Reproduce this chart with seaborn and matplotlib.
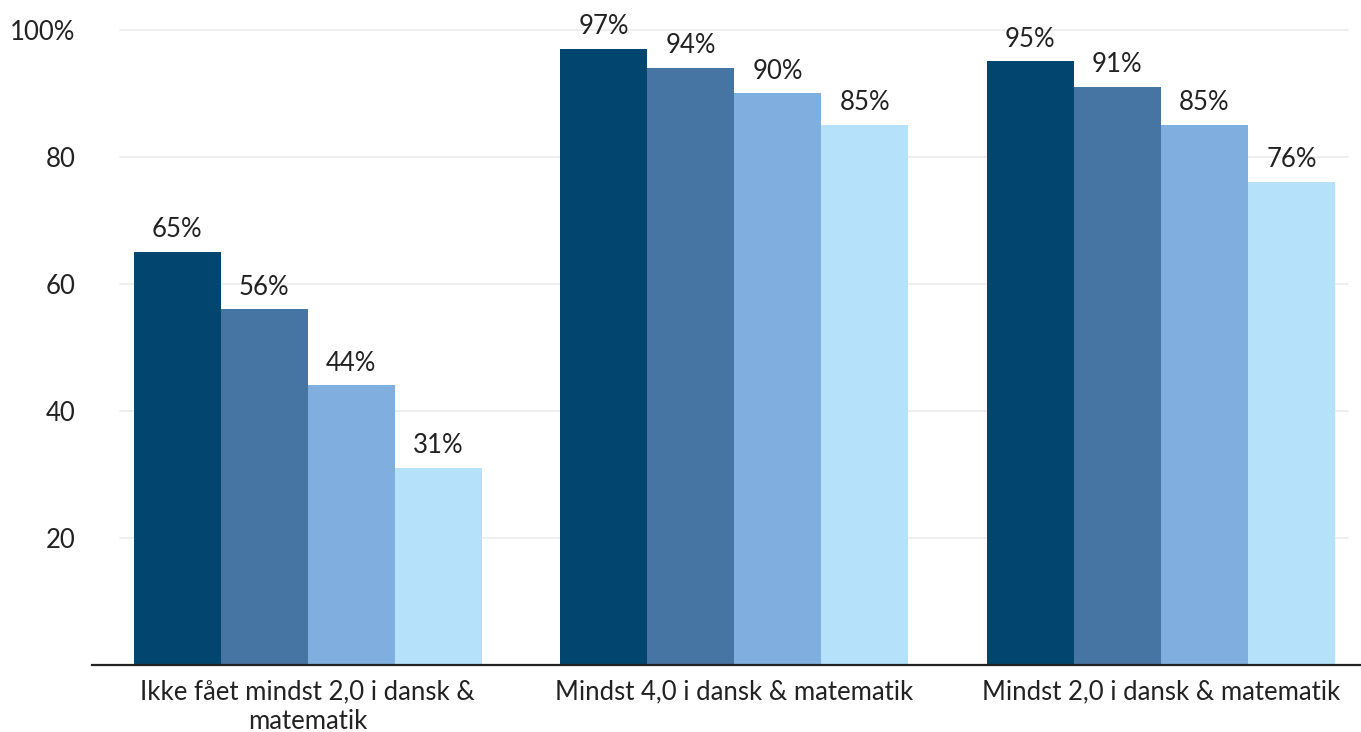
import matplotlib
matplotlib.use("Agg")
import matplotlib.pyplot as plt
import seaborn as sns
import pandas as pd

categories = ["Ikke fået mindst 2,0 i dansk &\nmatematik",
              "Mindst 4,0 i dansk & matematik",
              "Mindst 2,0 i dansk & matematik"]
series_names = ["S1", "S2", "S3", "S4"]
values = {
    "S1": [65, 97, 95],
    "S2": [56, 94, 91],
    "S3": [44, 90, 85],
    "S4": [31, 85, 76],
}
colors = ["#02466f", "#4674a3", "#80aede", "#b5e1fa"]
yticks = [20, 40, 60, 80, 100]
ytick_labels = ["20", "40", "60", "80", "100%"]

rows = []
for s in series_names:
    for c, v in zip(categories, values[s]):
        rows.append({"cat": c, "series": s, "val": v})
df = pd.DataFrame(rows)

sns.set_theme(style="white")
plt.rcParams['font.family'] = ['Lato', 'DejaVu Sans']
text_color = "#222222"
fs = 18.5

fig = plt.figure(figsize=(13.61, 7.32), dpi=100)
ax = fig.add_axes([92/1361, 1 - 665/732, 1 - 92/1361, (665 - 10)/732])

sns.barplot(data=df, x="cat", y="val", hue="series", order=categories,
            hue_order=series_names, palette=colors, width=0.816,
            saturation=1, ax=ax, legend=False, zorder=2, linewidth=0,
            edgecolor="none")

for cont in ax.containers:
    ax.bar_label(cont, labels=[f"{int(round(b.get_height()))}%" for b in cont],
                 padding=7, fontsize=fs, color=text_color)

ax.set_ylim(0, 103.1)
ax.set_xlim(-0.506, 2.469)
ax.set_yticks(yticks)
ax.set_yticklabels(ytick_labels)
for t in yticks:
    ax.axhline(t, xmin=0.022, xmax=0.99, color="#ebebeb", linewidth=1.2, zorder=0)
ax.tick_params(axis="y", length=0, pad=12, labelsize=fs, labelcolor=text_color)
ax.tick_params(axis="x", length=0, pad=10, labelsize=fs, labelcolor=text_color)
ax.set_xlabel("")
ax.set_ylabel("")
for side in ["top", "right", "left"]:
    ax.spines[side].set_visible(False)
ax.spines["bottom"].set_color("#222222")
ax.spines["bottom"].set_linewidth(1.6)
for lbl in ax.get_xticklabels():
    lbl.set_linespacing(1.25)

fig.savefig("out.png", dpi=100, facecolor="white")
